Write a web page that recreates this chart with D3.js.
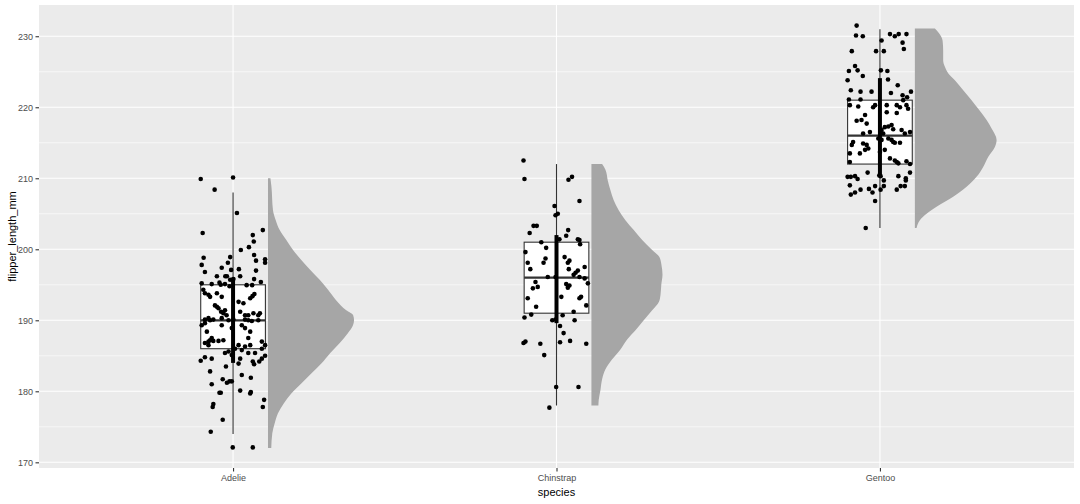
<!DOCTYPE html>
<html>
<head>
<meta charset="utf-8">
<script src="https://cdn.jsdelivr.net/npm/d3@7"></script>
<style>
  html, body { margin: 0; padding: 0; background: #ffffff; }
  svg { display: block; font-family: "Liberation Sans", Arial, sans-serif; }
</style>
</head>
<body>
<svg id="chart" width="1080" height="504"></svg>
<script>
// ---------------- DATA ----------------
const categories = ["Adelie", "Chinstrap", "Gentoo"];
const yTicks = [170, 180, 190, 200, 210, 220, 230];
const yMinorTicks = [175, 185, 195, 205, 215, 225];
const xTitle = "species";
const yTitle = "flipper_length_mm";

// boxplot stats: [lower whisker, Q1, median, Q3, upper whisker]
const boxAdelie = [174, 186, 190, 195, 208];
const boxChinstrap = [178, 191, 196, 201, 212];
const boxGentoo = [203, 212, 216, 221, 231];

// 66% interval of halfeye
const intervalAdelie = [184, 196];
const intervalChinstrap = [189.6, 202];
const intervalGentoo = [210.4, 224.1];

// half-eye density outline: [flipper_length_mm, relative density]
const densAdelie = [[210,0.028],[208.8,0.040],[205.5,0.058],[204.1,0.090],[202.7,0.136],[201.3,0.213],[199.9,0.291],[198.5,0.387],[197.1,0.492],[195.7,0.601],[194.3,0.698],[192.8,0.794],[191.4,0.910],[190.7,0.990],[190.0,1.0],[189.3,0.988],[188.2,0.930],[186.8,0.834],[185.4,0.724],[183.9,0.620],[182.5,0.503],[181.1,0.387],[179.7,0.271],[178.3,0.183],[176.9,0.116],[175.5,0.078],[174.1,0.050],[172.0,0.038]];
const densChinstrap = [[212,0.124],[211.2,0.163],[209.7,0.190],[208.3,0.221],[206.9,0.259],[205.5,0.317],[204.1,0.395],[202.7,0.492],[201.3,0.590],[199.9,0.706],[198.9,0.790],[197.8,0.814],[196.4,0.826],[195.0,0.812],[193.5,0.802],[192.6,0.785],[191.4,0.706],[190.0,0.608],[188.6,0.512],[187.3,0.415],[185.9,0.337],[184.5,0.241],[183.1,0.163],[181.7,0.124],[180.2,0.105],[178.8,0.085],[178.0,0.081]];
const densGentoo = [[231.1,0.233],[230.4,0.283],[229.4,0.322],[228.0,0.329],[226.6,0.329],[225.7,0.349],[224.8,0.387],[223.8,0.465],[222.4,0.562],[221.0,0.659],[219.6,0.748],[218.2,0.834],[217.0,0.892],[215.4,0.950],[214.4,0.930],[213.0,0.852],[211.6,0.794],[210.2,0.717],[208.8,0.601],[207.4,0.445],[206.0,0.252],[205.0,0.136],[204.1,0.058],[203.0,0.020]];

// jittered observations: [jitter offset (category units), flipper_length_mm]
const ptsAdelie = [[-0.100,209.9],[0.000,210.1],[-0.057,208.4],[0.012,205.1],[-0.094,202.3],[0.092,202.7],[0.061,202.0],[0.064,201.1],[0.049,200.3],[0.024,199.9],[-0.091,198.8],[0.065,199.2],[-0.009,198.9],[0.071,198.4],[0.099,198.6],[0.099,198.1],[-0.097,197.8],[-0.016,198.1],[-0.035,197.4],[0.018,197.2],[-0.006,197.1],[0.071,197.0],[-0.087,196.8],[-0.050,196.2],[-0.024,196.2],[-0.019,196.2],[0.022,196.2],[-0.009,195.7],[0.065,195.8],[0.001,195.8],[0.086,195.4],[-0.097,195.2],[-0.066,195.1],[-0.042,195.3],[-0.038,195.0],[-0.025,195.1],[-0.011,194.8],[0.042,194.95],[0.059,194.95],[-0.092,194.3],[-0.087,193.8],[-0.076,193.6],[-0.071,193.3],[-0.050,193.8],[-0.035,193.3],[0.053,193.1],[0.060,193.4],[0.066,193.7],[0.017,192.6],[0.032,192.4],[-0.056,192.1],[-0.050,191.9],[-0.045,191.7],[-0.037,191.2],[-0.030,191.0],[-0.020,190.7],[-0.025,191.4],[0.022,191.2],[0.037,190.7],[0.047,190.7],[0.063,191.0],[0.078,190.7],[0.083,191.0],[-0.087,190.1],[-0.076,190.3],[-0.071,190.0],[-0.061,190.1],[-0.035,190.3],[-0.014,190.0],[0.001,190.1],[0.037,190.1],[0.047,190.0],[0.058,189.9],[0.078,190.0],[-0.097,189.3],[-0.087,189.6],[-0.035,189.3],[0.027,189.3],[0.037,188.9],[0.053,188.4],[-0.081,188.4],[-0.004,188.9],[-0.076,187.0],[-0.071,187.2],[-0.066,187.5],[-0.061,187.1],[-0.045,187.1],[-0.030,187.2],[0.047,187.5],[-0.076,186.5],[-0.087,186.8],[0.017,186.5],[0.053,186.5],[0.089,187.0],[0.027,185.8],[0.006,186.0],[0.037,186.3],[0.089,186.0],[0.099,186.5],[-0.087,184.8],[-0.066,184.6],[-0.025,185.4],[-0.014,185.6],[-0.004,185.1],[0.022,184.6],[0.047,185.4],[0.068,185.4],[0.089,184.6],[0.099,185.0],[-0.100,184.3],[0.061,184.2],[0.081,184.2],[0.065,183.8],[0.017,183.9],[-0.022,183.5],[-0.071,182.8],[0.027,182.3],[0.055,181.9],[-0.032,181.7],[-0.019,181.2],[-0.011,181.4],[-0.004,181.4],[-0.066,181.0],[-0.042,179.8],[-0.038,179.8],[0.022,180.1],[0.055,179.9],[0.053,179.7],[0.096,178.8],[0.092,177.8],[-0.061,178.2],[-0.063,177.8],[-0.032,176.0],[-0.069,174.3],[-0.001,172.1],[0.061,172.1]];
const ptsChinstrap = [[-0.102,212.5],[-0.099,209.9],[0.037,209.8],[0.048,210.2],[0.071,206.8],[-0.006,206.1],[-0.003,204.8],[0.004,205.0],[-0.071,203.3],[-0.061,203.3],[-0.083,202.3],[0.036,202.7],[0.030,201.9],[0.009,201.4],[0.066,201.4],[0.071,201.3],[0.073,200.7],[-0.047,201.0],[-0.032,200.2],[-0.096,199.6],[-0.089,198.1],[-0.081,197.2],[-0.034,198.7],[-0.040,198.1],[0.025,198.9],[0.040,198.4],[0.035,198.1],[0.038,197.2],[0.087,197.5],[-0.027,196.1],[-0.003,196.1],[0.053,196.4],[0.059,196.7],[0.066,197.0],[0.071,196.1],[0.087,195.9],[-0.065,195.4],[-0.058,194.7],[-0.073,194.5],[0.030,195.1],[0.035,194.6],[0.040,194.9],[0.097,195.2],[0.015,193.3],[0.071,193.1],[0.076,193.3],[-0.089,193.1],[-0.063,191.9],[0.092,192.1],[-0.078,190.8],[-0.099,190.4],[-0.013,190.0],[-0.003,190.1],[0.056,190.0],[0.011,189.2],[0.022,188.2],[-0.102,186.8],[-0.096,187.0],[-0.050,186.7],[0.011,186.9],[0.042,187.1],[0.092,186.7],[-0.038,185.1],[-0.001,180.6],[0.068,180.6],[-0.022,177.7],[0.053,191.2],[0.019,190.7]];
const ptsGentoo = [[-0.072,231.5],[-0.074,230.1],[-0.053,230.0],[0.031,230.3],[0.046,230.0],[0.058,230.3],[0.082,230.3],[0.005,229.4],[0.070,229.1],[0.074,228.2],[-0.087,227.9],[-0.012,227.9],[0.012,227.9],[-0.077,225.8],[-0.069,225.2],[-0.096,225.1],[-0.053,224.4],[0.003,225.2],[0.023,225.1],[-0.100,223.8],[0.025,223.9],[0.055,223.1],[-0.090,222.4],[-0.060,222.2],[-0.026,222.2],[0.034,222.0],[0.096,222.2],[0.070,221.7],[0.084,221.4],[-0.096,221.1],[-0.060,221.1],[-0.093,220.3],[-0.067,220.1],[-0.015,220.3],[-0.021,220.0],[0.021,220.3],[0.052,220.3],[0.062,220.0],[0.072,221.0],[0.082,220.3],[0.087,219.8],[-0.046,218.9],[-0.057,218.2],[-0.072,218.1],[0.021,219.3],[0.052,219.2],[-0.041,217.7],[-0.052,216.3],[-0.031,216.5],[0.005,216.8],[0.010,216.3],[0.015,217.2],[0.026,217.3],[0.036,217.5],[0.041,216.9],[0.067,216.8],[0.077,216.3],[0.093,216.5],[-0.083,215.1],[-0.087,214.7],[-0.052,214.9],[-0.041,214.7],[-0.046,214.0],[-0.036,214.2],[-0.005,215.6],[0.005,215.4],[0.026,215.6],[0.036,215.4],[0.041,215.1],[0.046,215.0],[0.062,215.0],[-0.093,213.5],[-0.062,213.5],[0.000,213.7],[0.015,214.0],[0.031,212.8],[0.046,212.5],[0.052,212.3],[0.057,212.1],[0.082,212.4],[-0.093,212.3],[0.093,212.0],[-0.038,210.8],[-0.100,210.2],[-0.090,210.2],[-0.077,210.3],[-0.069,209.9],[-0.093,209.0],[-0.002,210.4],[0.002,210.3],[0.012,209.7],[0.057,210.3],[0.080,210.0],[0.080,209.7],[0.093,210.8],[-0.015,208.9],[0.012,208.9],[-0.034,208.5],[-0.060,208.4],[-0.077,208.0],[-0.090,207.7],[-0.023,208.0],[0.002,208.4],[0.052,208.4],[0.064,208.9],[0.077,208.9],[-0.015,206.8],[-0.044,203.0]];

// ---------------- LAYOUT ----------------
const W = 1080, H = 504;
const panel = { left: 39, right: 1074, top: 5, bottom: 468 };
const boxWidth = 0.2;          // category units
const slabOffset = 0.108;      // category units
const slabMax = 0.266;         // category units
const pointR = 2.3;

const groups = [
  { name: "Adelie", box: boxAdelie, interval: intervalAdelie, dens: densAdelie, pts: ptsAdelie },
  { name: "Chinstrap", box: boxChinstrap, interval: intervalChinstrap, dens: densChinstrap, pts: ptsChinstrap },
  { name: "Gentoo", box: boxGentoo, interval: intervalGentoo, dens: densGentoo, pts: ptsGentoo }
];

const svg = d3.select("#chart");

const x = d3.scalePoint().domain(categories).range([panel.left, panel.right]).padding(0.6);
const step = x.step();
const y = d3.scaleLinear().domain([169.2, 234.4]).range([panel.bottom, panel.top]);

// panel background
svg.append("rect")
  .attr("x", panel.left).attr("y", panel.top)
  .attr("width", panel.right - panel.left).attr("height", panel.bottom - panel.top)
  .attr("fill", "#EBEBEB");

// minor grid
svg.append("g").selectAll("line").data(yMinorTicks).join("line")
  .attr("x1", panel.left).attr("x2", panel.right)
  .attr("y1", d => y(d)).attr("y2", d => y(d))
  .attr("stroke", "#ffffff").attr("stroke-width", 0.6);
// major grid
svg.append("g").selectAll("line").data(yTicks).join("line")
  .attr("x1", panel.left).attr("x2", panel.right)
  .attr("y1", d => y(d)).attr("y2", d => y(d))
  .attr("stroke", "#ffffff").attr("stroke-width", 1.1);
svg.append("g").selectAll("line").data(categories).join("line")
  .attr("x1", d => x(d)).attr("x2", d => x(d))
  .attr("y1", panel.top).attr("y2", panel.bottom)
  .attr("stroke", "#ffffff").attr("stroke-width", 1.1);

// half-eye slabs
const gSlab = svg.append("g");
groups.forEach(g => {
  const base = x(g.name) + slabOffset * step;
  const area = d3.area()
    .y(d => y(d[0]))
    .x0(base)
    .x1(d => base + d[1] * slabMax * step)
    .curve(d3.curveMonotoneY);
  const data = g.dens.slice().sort((a, b) => a[0] - b[0]);
  gSlab.append("path").datum(data)
    .attr("d", area)
    .attr("fill", "#A6A6A6");
});

// boxplots
const gBox = svg.append("g");
groups.forEach(g => {
  const cx = x(g.name);
  const hw = boxWidth * step / 2;
  const [lo, q1, med, q3, hi] = g.box;
  gBox.append("line").attr("x1", cx).attr("x2", cx).attr("y1", y(q3)).attr("y2", y(hi))
    .attr("stroke", "#333333").attr("stroke-width", 1.1);
  gBox.append("line").attr("x1", cx).attr("x2", cx).attr("y1", y(q1)).attr("y2", y(lo))
    .attr("stroke", "#333333").attr("stroke-width", 1.1);
  gBox.append("rect")
    .attr("x", cx - hw).attr("y", y(q3))
    .attr("width", 2 * hw).attr("height", y(q1) - y(q3))
    .attr("fill", "#ffffff").attr("stroke", "#333333").attr("stroke-width", 1.1);
  gBox.append("line").attr("x1", cx - hw).attr("x2", cx + hw).attr("y1", y(med)).attr("y2", y(med))
    .attr("stroke", "#333333").attr("stroke-width", 2.2);
});

// interval (thick)
const gInt = svg.append("g");
groups.forEach(g => {
  const cx = x(g.name);
  gInt.append("line").attr("x1", cx).attr("x2", cx)
    .attr("y1", y(g.interval[0])).attr("y2", y(g.interval[1]))
    .attr("stroke", "#000000").attr("stroke-width", 4);
});

// points
const gPts = svg.append("g");
groups.forEach(g => {
  gPts.selectAll(null).data(g.pts).join("circle")
    .attr("cx", d => x(g.name) + d[0] * step)
    .attr("cy", d => y(d[1]))
    .attr("r", pointR)
    .attr("fill", "#000000");
});

// y axis
const gy = svg.append("g").attr("transform", `translate(${panel.left},0)`)
  .call(d3.axisLeft(y).tickValues(yTicks).tickSize(3.5).tickPadding(2.5));
gy.select(".domain").remove();
gy.selectAll(".tick line").attr("stroke", "#333333").attr("stroke-width", 1.1);
gy.selectAll(".tick text").attr("fill", "#4D4D4D").attr("font-size", "9px")
  .attr("font-family", "Liberation Sans, Arial, sans-serif");

// x axis
const gx = svg.append("g").attr("transform", `translate(0,${panel.bottom})`)
  .call(d3.axisBottom(x).tickSize(3.5).tickPadding(3));
gx.select(".domain").remove();
gx.selectAll(".tick line").attr("stroke", "#333333").attr("stroke-width", 1.1);
gx.selectAll(".tick text").attr("fill", "#4D4D4D").attr("font-size", "9px")
  .attr("font-family", "Liberation Sans, Arial, sans-serif");

// titles
svg.append("text")
  .attr("x", (panel.left + panel.right) / 2).attr("y", 496)
  .attr("text-anchor", "middle").attr("font-size", "11px").attr("fill", "#000000")
  .text(xTitle);
svg.append("text")
  .attr("transform", `translate(16,${(panel.top + panel.bottom) / 2}) rotate(-90)`)
  .attr("text-anchor", "middle").attr("font-size", "11px").attr("fill", "#000000")
  .text(yTitle);
</script>
</body>
</html>
